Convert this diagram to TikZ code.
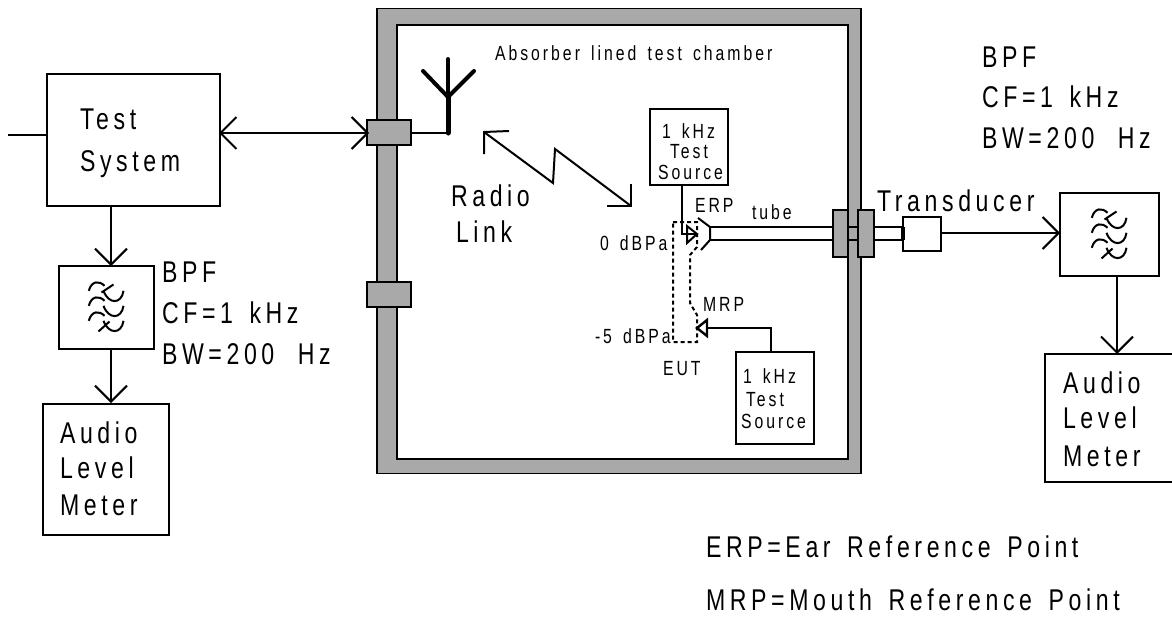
\documentclass[tikz,border=0pt]{standalone}
\usepackage{graphicx}
\usepackage{fontspec}
\usetikzlibrary{arrows.meta}
\newfontfamily\bigfam[LetterSpace=20,WordSpace=1.5]{Liberation Sans}
\newfontfamily\smallfam[LetterSpace=19,WordSpace=1.5]{Liberation Sans}
\newcommand{\bigt}[1]{\scalebox{.77}[1]{\bigfam\fontsize{30}{30}\selectfont #1}}
\newcommand{\smallt}[1]{\scalebox{.77}[1]{\smallfam\fontsize{20.5}{20.5}\selectfont #1}}
\definecolor{wall}{HTML}{A9A9A9}
\tikzset{
  lab/.style={anchor=base west,inner sep=0pt,outer sep=0pt},
  boxn/.style={draw,line width=2pt,inner sep=0pt,outer sep=0pt,fill=white},
  flange/.style={draw,line width=2pt,fill=wall,inner sep=0pt,outer sep=0pt},
  conn/.style={line width=2pt},
  vee/.style={conn,-{Straight Barb[length=16pt,width=32pt,line width=2pt]}},
  veeboth/.style={conn,{Straight Barb[length=16pt,width=32pt,line width=2pt]}-{Straight Barb[length=16pt,width=32pt,line width=2pt]}},
  eut/.style={line width=2pt,dash pattern=on 4pt off 3pt},
  filtersym/.pic={
    \foreach \d in {0,15,30}{
      \draw[line width=2pt] (-17.7,-16.7+\d) .. controls (-15,-27+\d) and (-7,-27+\d) .. (-2,-21.7+\d);
      \draw[line width=2pt] (-3,-16.7+\d) .. controls (2,-3+\d) and (15,-3+\d) .. (17,-16.7+\d);
    }
    \draw[line width=2pt] (-5,-15) -- (7,-23);
    \draw[line width=2pt] (-8,24) -- (3,14);
  }
}
\begin{document}
\begin{tikzpicture}[x=1pt,y=-1pt]
\useasboundingbox (0,0) rectangle (1172,616);

% chamber
\node[flange,line width=1.6pt,minimum width=484pt,minimum height=465pt] (outer) at (619,241) {};
\node[boxn,line width=2.8pt,minimum width=451pt,minimum height=434pt] (inner) at (622.5,242) {};
\node[flange,minimum width=44pt,minimum height=25pt] (fl1) at (389,132.5) {};
\node[flange,minimum width=44pt,minimum height=25pt] (fl2) at (389,294.5) {};

% tube
\coordinate (tubeA) at (710,227);
\coordinate (tubeB) at (710,240);
\coordinate (earT) at (698,218);
\coordinate (earB) at (701,250);
\node[minimum width=38pt,minimum height=34pt,boxn] (trans) at (922,234) {};
\draw[conn] (tubeA) -- (tubeA -| trans.west);
\draw[conn] (tubeB) -- (tubeB -| trans.west);
\draw[line width=3.4pt] (trans.west |- tubeA) -- (trans.west |- tubeB);
\draw[conn] (earT) -- (tubeA) -- (tubeB) -- (earB);
\node[flange,minimum width=15pt,minimum height=47pt] (fr1) at (840.5,233.5) {};
\node[flange,minimum width=16pt,minimum height=47pt] (fr2) at (866,233.5) {};

% left column
\node[boxn,minimum width=173pt,minimum height=132pt] (ts) at (133.5,140) {};
\node[boxn,minimum width=95pt,minimum height=83pt] (bpfL) at (106.5,307.5) {};
\node[boxn,minimum width=126pt,minimum height=131pt] (almL) at (106,469) {};
\pic at (bpfL.center) {filtersym};
\coordinate (stub) at (8,135);
\coordinate (tsS) at (111,206);
\coordinate (bpfLN) at (111,266);
\coordinate (bpfLS) at (111,349);
\coordinate (almLN) at (111,403);
\coordinate (tsE) at (219,133);
\coordinate (fl1W) at (369,133);
\draw[conn] (stub) -- (stub -| ts.west);
\draw[veeboth] (tsE) -- (fl1W);
\draw[vee] (tsS) -- (bpfLN);
\draw[vee] (bpfLS) -- (almLN);

% antenna
\coordinate (antBase) at (448,133);
\coordinate (antFork) at (448,97);
\coordinate (antTop) at (448,59);
\coordinate (antL) at (423,71);
\coordinate (antR) at (474,71);
\draw[conn] (fl1.east |- antBase) -- (antBase);
\draw[line width=5pt,line cap=round] (antBase) -- (antFork);
\draw[line width=4pt,line cap=round] (antTop) -- (antFork);
\draw[line width=4pt,line cap=round,line join=round] (antL) -- (antFork) -- (antR);

% radio link
\coordinate (rlA) at (484,132);
\coordinate (rlB) at (553,183);
\coordinate (rlC) at (555,149);
\coordinate (rlD) at (631,206);
\draw[conn] (rlA) -- (rlB) -- (rlC) -- (rlD);
\coordinate (rlA1) at (509,131);
\coordinate (rlA2) at (484,154);
\coordinate (rlD1) at (631,184);
\coordinate (rlD2) at (607,206);
\draw[conn] (rlA1) -- (rlA) -- (rlA2);
\draw[conn] (rlD1) -- (rlD) -- (rlD2);

% EUT
\coordinate (e1) at (673,222);
\coordinate (e2) at (697,222);
\coordinate (e3) at (697,247);
\coordinate (e4) at (690,255);
\coordinate (e5) at (690,303);
\coordinate (e6) at (697,315);
\coordinate (e7) at (697,342);
\coordinate (e8) at (673,342);
\draw[eut] (e1) -- (e2) -- (e3) -- (e4) -- (e5) -- (e6) -- (e7) -- (e8) -- cycle;

% sources
\node[boxn,minimum width=78pt,minimum height=76pt] (srcT) at (689,147) {};
\node[boxn,minimum width=78pt,minimum height=92pt] (srcB) at (775,398) {};
\coordinate (srcTout) at (682,185);
\coordinate (ear) at (682,234);
\coordinate (earTip) at (697,234);
\coordinate (t1a) at (687,226);
\coordinate (t1b) at (687,243);
\draw[conn] (srcTout) -- (ear) -- (earTip);
\draw[line width=2pt] (t1a) -- (earTip) -- (t1b) -- cycle;
\coordinate (srcBout) at (771,352);
\coordinate (mthC) at (771,328);
\coordinate (mthTip) at (697,328);
\coordinate (t2base) at (707,328);
\coordinate (t2a) at (707,320);
\coordinate (t2b) at (707,336);
\draw[conn] (srcBout) -- (mthC) -- (t2base);
\draw[line width=2.4pt] (t2a) -- (mthTip) -- (t2b) -- cycle;

% right column
\node[boxn,minimum width=99pt,minimum height=83pt] (bpfR) at (1109.5,234.5) {};
\node[boxn,minimum width=135pt,minimum height=128pt] (almR) at (1112.5,418) {};
\pic at (bpfR.center) {filtersym};
\coordinate (trE) at (941,233);
\coordinate (bpfRW) at (1060,233);
\coordinate (bpfRS) at (1117,276);
\coordinate (almRN) at (1117,354);
\draw[vee] (trE) -- (bpfRW);
\draw[vee] (bpfRS) -- (almRN);

% big labels
\node[lab] (lTest) at (80,129) {\bigt{Test}};
\node[lab] (lSystem) at (80,171) {\bigt{System}};
\node[lab] (lBPF) at (162,282) {\bigt{BPF}};
\node[lab] (lCF) at (162,323) {\bigt{CF=1 kHz}};
\node[lab] (lBW) at (162,364) {\bigt{BW=200\hspace{9pt} Hz}};
\node[lab] (lA) at (60,443) {\bigt{Audio}};
\node[lab] (lL) at (60,478) {\bigt{Level}};
\node[lab] (lM) at (60,515) {\bigt{Meter}};
\node[lab] (rA) at (1063,393) {\bigt{Audio}};
\node[lab] (rL) at (1063,428) {\bigt{Level}};
\node[lab] (rM) at (1063,466) {\bigt{Meter}};
\node[lab] (rBPF) at (982,67) {\bigt{BPF}};
\node[lab] (rCF) at (982,107) {\bigt{CF=1 kHz}};
\node[lab] (rBW) at (982,148) {\bigt{BW=200\hspace{9pt} Hz}};
\node[lab] (lTrans) at (877,211) {\bigt{Transducer}};
\node[lab] (lRadio) at (451,206) {\bigt{Radio}};
\node[lab] (lLink) at (456,242) {\bigt{Link}};
\node[lab] (lERP) at (706,557) {\bigt{ERP=Ear Reference Point}};
\node[lab] (lMRP) at (706,610) {\bigt{MRP=Mouth Reference Point}};

% small labels
\node[lab] (lAbs) at (495,60) {\smallt{Absorber lined test chamber}};
\node[lab] (s1a) at (662,138) {\smallt{1 kHz}};
\node[lab] (s1b) at (670,158) {\smallt{Test}};
\node[lab] (s1c) at (658,179) {\smallt{Source}};
\node[lab] (s2a) at (743,383) {\smallt{1 kHz}};
\node[lab] (s2b) at (746,406) {\smallt{Test}};
\node[lab] (s2c) at (741,428) {\smallt{Source}};
\node[lab] (lE) at (695,212) {\smallt{ERP}};
\node[lab] (ltube) at (752,219) {\smallt{tube}};
\node[lab] (l0) at (600,250) {\smallt{0 dBPa}};
\node[lab] (lMr) at (703,311) {\smallt{MRP}};
\node[lab] (l5) at (595,343) {\smallt{-5 dBPa}};
\node[lab] (lEUT) at (663,375) {\smallt{EUT}};
\end{tikzpicture}
\end{document}
